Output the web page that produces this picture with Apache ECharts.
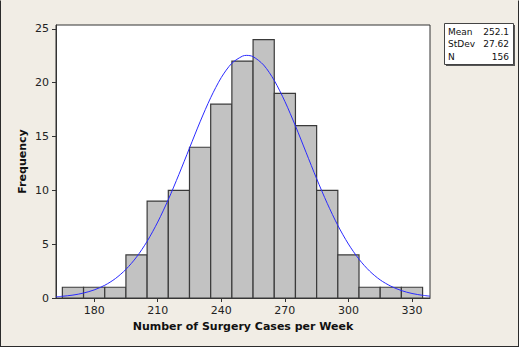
<!DOCTYPE html>
<html>
<head>
<meta charset="utf-8">
<script src="https://cdn.jsdelivr.net/npm/echarts@6/dist/echarts.min.js"></script>
<style>
  html, body { margin: 0; padding: 0; background: #f1ede5; }
  #chart { width: 517px; height: 345px; border: 1px solid #2b2b2b; border-top-color: #f1ede5; }
</style>
</head>
<body>
<div id="chart"></div>
<script>
// histogram bins (lower edge, upper edge, count)
const binStarts = [165, 175, 185, 195, 205, 215, 225, 235, 245, 255, 265, 275, 285, 295, 305, 315, 325];
const binWidth = 10;
const counts = [1, 1, 1, 4, 9, 10, 14, 18, 22, 24, 19, 16, 10, 4, 1, 1, 1];

// fitted normal curve
const curveX = [162, 165, 170, 175, 180, 185, 190, 195, 200, 205, 210, 215, 220, 225, 230, 235, 240, 245, 250, 252, 255, 260, 265, 270, 275, 280, 285, 290, 295, 300, 305, 310, 315, 320, 325, 330, 335, 338.5];
const curveY = [0.11, 0.16, 0.27, 0.46, 0.75, 1.18, 1.8, 2.66, 3.8, 5.26, 7.05, 9.14, 11.47, 13.92, 16.36, 18.6, 20.47, 21.8, 22.46, 22.53, 22.41, 21.63, 20.2, 18.26, 15.98, 13.53, 11.08, 8.79, 6.74, 5.01, 3.6, 2.5, 1.68, 1.1, 0.69, 0.42, 0.25, 0.17];

const xTicks = [180, 210, 240, 270, 300, 330];
const yTicks = [0, 5, 10, 15, 20, 25];

const statNames = ['Mean', 'StDev', 'N'];
const statValues = ['252.1', '27.62', '156'];

const chart = echarts.init(document.getElementById('chart'), null, { renderer: 'svg' });

const font = 'Tahoma, "DejaVu Sans", sans-serif';
const barData = binStarts.map((s, i) => [s, s + binWidth, counts[i]]);
const lineData = curveX.map((x, i) => [x, curveY[i]]);

const statGraphics = [
  { type: 'rect', left: 445, top: 24, shape: { width: 69, height: 41 }, style: { fill: '#555' }, silent: true },
  { type: 'rect', left: 443, top: 22, shape: { width: 69, height: 41 }, style: { fill: '#fff', stroke: '#444', lineWidth: 1 }, silent: true }
];
statNames.forEach((n, i) => {
  statGraphics.push({ type: 'text', left: 447, top: 26 + i * 12.5, style: { text: n, font: '9px ' + font, fill: '#111' } });
  statGraphics.push({ type: 'text', right: 9, top: 26 + i * 12.5, style: { text: statValues[i], font: '9px ' + font, fill: '#111', textAlign: 'right' } });
});

const option = {
  animation: false,
  backgroundColor: '#f1ede5',
  grid: {
    left: 55, top: 24, right: 88, bottom: 48,
    show: true, backgroundColor: '#ffffff', borderColor: '#333', borderWidth: 1
  },
  xAxis: {
    type: 'value', min: 162, max: 338.5,
    name: 'Number of Surgery Cases per Week', nameLocation: 'middle', nameGap: 21,
    nameTextStyle: { fontFamily: font, fontWeight: 'bold', fontSize: 11, color: '#111' },
    splitLine: { show: false },
    axisLine: { lineStyle: { color: '#333' } },
    axisTick: { length: 4, customValues: xTicks, lineStyle: { color: '#333' } },
    axisLabel: { customValues: xTicks, margin: 7, fontFamily: font, fontSize: 11, color: '#222' }
  },
  yAxis: {
    type: 'value', min: 0, max: 25.35,
    name: 'Frequency', nameLocation: 'middle', nameGap: 28, nameMoveOverlap: false,
    nameTextStyle: { fontFamily: font, fontWeight: 'bold', fontSize: 11, color: '#111' },
    splitLine: { show: false },
    axisLine: { show: true, lineStyle: { color: '#333' } },
    axisTick: { show: true, length: 4, customValues: yTicks, lineStyle: { color: '#333' } },
    axisLabel: { customValues: yTicks, margin: 7, fontFamily: font, fontSize: 11, color: '#222' }
  },
  graphic: statGraphics,
  series: [
    {
      type: 'custom',
      data: barData,
      renderItem: (params, api) => {
        const p0 = api.coord([api.value(0), api.value(2)]);
        const p1 = api.coord([api.value(1), 0]);
        return {
          type: 'rect',
          shape: { x: p0[0], y: p0[1], width: p1[0] - p0[0], height: p1[1] - p0[1] },
          style: { fill: '#c2c2c2', stroke: '#3a3a3a', lineWidth: 1.2 }
        };
      },
      z: 2
    },
    {
      type: 'line',
      data: lineData,
      smooth: 0.3,
      showSymbol: false,
      lineStyle: { color: '#2a2aff', width: 1 },
      z: 3
    }
  ]
};

chart.setOption(option);
</script>
</body>
</html>
